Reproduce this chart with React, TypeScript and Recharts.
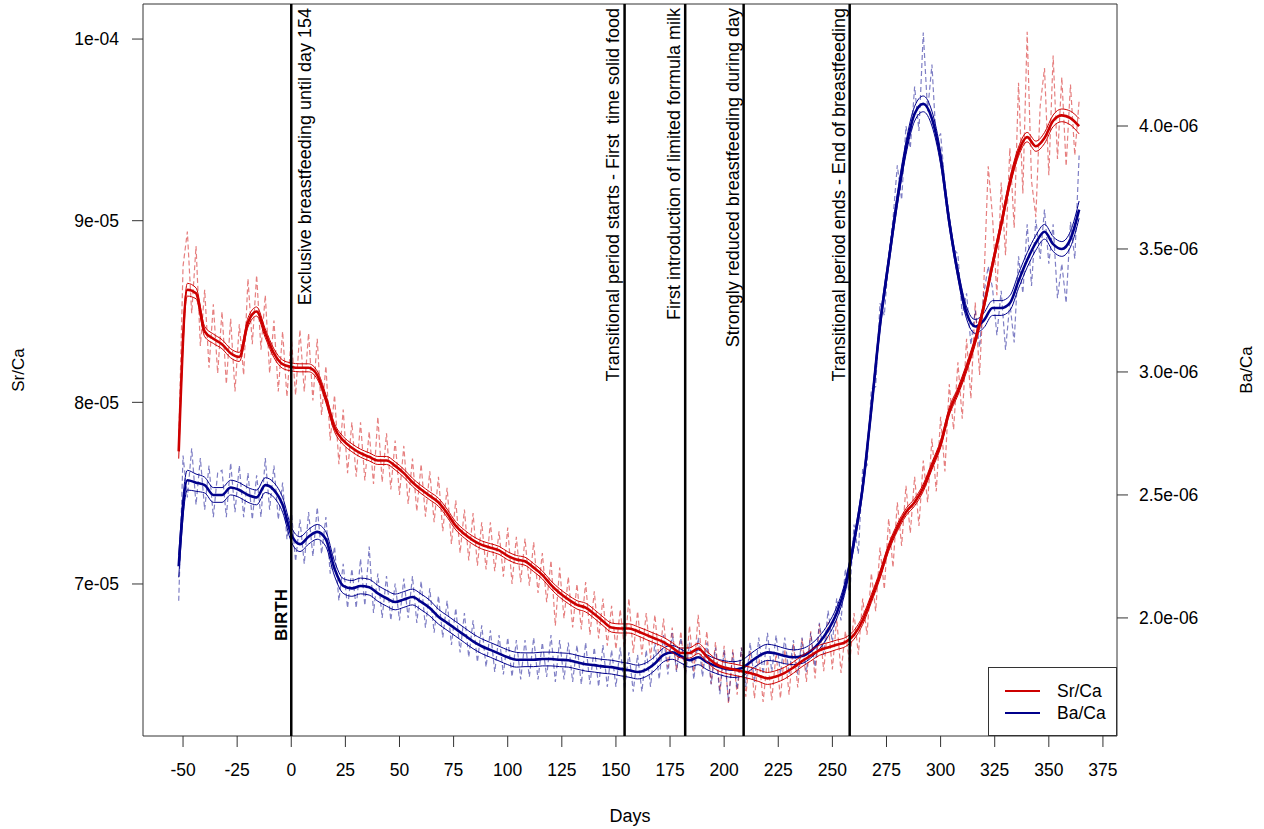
import React from 'react';
import {
  ComposedChart,
  Line,
  XAxis,
  YAxis,
  ReferenceLine,
  ReferenceArea,
  Legend,
} from 'recharts';

// values below are stored in units of 1e-6
const UNIT = 1e-6;

const RED = '#cd0000';
const BLUE = '#00008b';
const FONT = "'Liberation Sans', Arial, sans-serif";
const NARROW = "'Liberation Sans Narrow', 'Liberation Sans', Arial, sans-serif";

// measurements every 2 days
const rawDays = [
  -52, -50, -48, -46, -44, -42, -40, -38, -36, -34,
  -32, -30, -28, -26, -24, -22, -20, -18, -16, -14,
  -12, -10, -8, -6, -4, -2, 0, 2, 4, 6,
  8, 10, 12, 14, 16, 18, 20, 22, 24, 26,
  28, 30, 32, 34, 36, 38, 40, 42, 44, 46,
  48, 50, 52, 54, 56, 58, 60, 62, 64, 66,
  68, 70, 72, 74, 76, 78, 80, 82, 84, 86,
  88, 90, 92, 94, 96, 98, 100, 102, 104, 106,
  108, 110, 112, 114, 116, 118, 120, 122, 124, 126,
  128, 130, 132, 134, 136, 138, 140, 142, 144, 146,
  148, 150, 152, 154, 156, 158, 160, 162, 164, 166,
  168, 170, 172, 174, 176, 178, 180, 182, 184, 186,
  188, 190, 192, 194, 196, 198, 200, 202, 204, 206,
  208, 210, 212, 214, 216, 218, 220, 222, 224, 226,
  228, 230, 232, 234, 236, 238, 240, 242, 244, 246,
  248, 250, 252, 254, 256, 258, 260, 262, 264, 266,
  268, 270, 272, 274, 276, 278, 280, 282, 284, 286,
  288, 290, 292, 294, 296, 298, 300, 302, 304, 306,
  308, 310, 312, 314, 316, 318, 320, 322, 324, 326,
  328, 330, 332, 334, 336, 338, 340, 342, 344, 346,
  348, 350, 352, 354, 356, 358, 360, 362, 364,
];

const srRaw = [
  77.8, 87.5, 89.4, 84.9, 88.6, 83.1, 86.2, 81.9, 85.4, 81.6,
  85.0, 81.0, 84.6, 80.6, 84.3, 81.5, 86.8, 83.2, 87.0, 82.9,
  85.9, 81.6, 84.5, 80.6, 83.9, 80.3, 83.6, 80.4, 84.0, 80.6,
  83.8, 80.1, 83.5, 79.3, 82.0, 77.9, 80.4, 76.6, 79.6, 76.1,
  78.9, 75.9, 78.9, 75.7, 78.4, 75.5, 79.2, 75.6, 78.3, 75.2,
  77.9, 74.9, 77.6, 74.4, 76.9, 74.0, 76.6, 73.7, 76.2, 73.4,
  75.9, 72.9, 75.3, 72.2, 74.6, 71.7, 74.1, 71.3, 73.9, 71.0,
  73.4, 70.8, 73.4, 70.7, 72.9, 70.4, 73.1, 70.0, 72.6, 70.1,
  72.5, 69.9, 72.3, 69.5, 71.7, 69.0, 71.3, 67.7, 70.9, 68.1,
  70.4, 67.6, 70.0, 67.5, 70.1, 67.2, 69.6, 67.0, 69.2, 66.6,
  68.8, 66.4, 68.6, 66.3, 69.2, 66.2, 68.5, 66.1, 68.4, 65.9,
  68.3, 65.7, 68.1, 65.4, 67.6, 65.2, 67.4, 64.9, 67.7, 65.1,
  68.3, 65.3, 67.4, 64.5, 66.8, 64.1, 66.6, 63.4, 66.4, 63.9,
  66.5, 63.8, 66.3, 63.7, 66.1, 63.5, 65.9, 63.6, 66.2, 63.7,
  66.4, 63.9, 66.7, 64.3, 67.0, 64.6, 67.4, 64.8, 67.8, 65.2,
  67.9, 65.3, 68.1, 65.1, 67.4, 65.6, 68.4, 66.1, 69.2, 67.2,
  70.6, 68.5, 72.0, 69.7, 73.6, 70.9, 74.5, 72.1, 75.4, 72.8,
  75.9, 73.2, 76.8, 74.5, 78.0, 75.1, 79.2, 76.2, 81.0, 78.5,
  82.2, 79.1, 83.5, 80.2, 85.5, 81.5, 86.6, 93.0, 90.2, 85.9,
  92.1, 88.1, 94.0, 89.6, 97.6, 91.5, 100.4, 92.2, 90.2, 96.3,
  98.4, 92.5, 99.1, 93.4, 97.9, 93.0, 97.5, 93.6, 96.6,
];

const baRaw = [
  2.07, 2.66, 2.49, 2.69, 2.46, 2.65, 2.44, 2.62, 2.41, 2.59,
  2.60, 2.41, 2.63, 2.43, 2.62, 2.41, 2.59, 2.40, 2.58, 2.41,
  2.65, 2.44, 2.62, 2.40, 2.55, 2.32, 2.44, 2.23, 2.40, 2.22,
  2.43, 2.25, 2.45, 2.26, 2.41, 2.18, 2.29, 2.07, 2.22, 2.04,
  2.20, 2.04, 2.24, 2.05, 2.29, 2.02, 2.18, 2.00, 2.17, 1.99,
  2.14, 1.99, 2.16, 2.00, 2.17, 1.98, 2.15, 1.96, 2.12, 1.94,
  2.09, 1.92, 2.07, 1.89, 2.04, 1.86, 2.02, 1.84, 1.99, 1.82,
  1.97, 1.80, 1.95, 1.78, 1.93, 1.77, 1.92, 1.76, 1.91, 1.75,
  1.91, 1.76, 1.92, 1.75, 1.90, 1.76, 1.93, 1.74, 1.91, 1.75,
  1.90, 1.74, 1.89, 1.73, 1.90, 1.73, 1.88, 1.72, 1.89, 1.72,
  1.87, 1.72, 1.88, 1.71, 1.86, 1.70, 1.85, 1.70, 1.87, 1.72,
  1.90, 1.75, 1.93, 1.77, 1.94, 1.78, 1.92, 1.76, 1.90, 1.75,
  1.92, 1.76, 1.90, 1.73, 1.88, 1.69, 1.87, 1.66, 1.86, 1.71,
  1.88, 1.72, 1.90, 1.74, 1.92, 1.77, 1.94, 1.78, 1.93, 1.77,
  1.92, 1.77, 1.91, 1.77, 1.92, 1.78, 1.94, 1.80, 1.98, 1.85,
  2.03, 1.90, 2.08, 1.99, 2.20, 2.09, 2.38, 2.26, 2.61, 2.62,
  2.93, 2.94, 3.28, 3.23, 3.47, 3.62, 3.84, 3.70, 4.00, 3.91,
  4.16, 3.98, 4.38, 4.06, 4.25, 3.93, 3.97, 3.76, 3.63, 3.50,
  3.48, 3.23, 3.32, 3.11, 3.25, 3.10, 3.32, 3.43, 3.34, 3.15,
  3.33, 3.09, 3.28, 3.12, 3.47, 3.32, 3.60, 3.35, 3.62, 3.46,
  3.66, 3.44, 3.60, 3.30, 3.44, 3.28, 3.61, 3.46, 3.88,
];

// fitted curves with confidence half-widths (every 4 days)
const smoothDays = [
  -52, -48, -44, -40, -36, -32, -28, -24, -20, -16,
  -12, -8, -4, 0, 4, 8, 12, 16, 20, 24,
  28, 32, 36, 40, 44, 48, 52, 56, 60, 64,
  68, 72, 76, 80, 84, 88, 92, 96, 100, 104,
  108, 112, 116, 120, 124, 128, 132, 136, 140, 144,
  148, 152, 156, 160, 164, 168, 172, 176, 180, 184,
  188, 192, 196, 200, 204, 208, 212, 216, 220, 224,
  228, 232, 236, 240, 244, 248, 252, 256, 260, 264,
  268, 272, 276, 280, 284, 288, 292, 296, 300, 304,
  308, 312, 316, 320, 324, 328, 332, 336, 340, 344,
  348, 352, 356, 360, 364,
];

const srSmooth = [
  77.3, 86.2, 86.0, 83.9, 83.5, 83.2, 82.7, 82.5, 84.4, 85.0,
  83.8, 82.7, 82.1, 81.95, 81.9, 81.9, 81.5, 80.2, 78.6, 77.9,
  77.5, 77.2, 77.0, 76.8, 76.8, 76.5, 76.1, 75.6, 75.2, 74.85,
  74.5, 73.9, 73.2, 72.75, 72.4, 72.15, 72.0, 71.85, 71.55, 71.35,
  71.25, 70.9, 70.5, 69.95, 69.5, 69.15, 68.85, 68.7, 68.35, 67.95,
  67.6, 67.55, 67.55, 67.4, 67.2, 67.0, 66.8, 66.5, 66.2, 66.2,
  66.45, 66.0, 65.6, 65.4, 65.3, 65.2, 65.1, 64.95, 64.8, 64.9,
  65.1, 65.4, 65.75, 66.05, 66.35, 66.5, 66.65, 66.8, 67.2, 68.0,
  69.2, 70.5, 72.0, 73.1, 73.95, 74.5, 75.3, 76.5, 77.7, 79.5,
  80.6, 81.9, 83.4, 85.3, 87.6, 89.8, 92.1, 93.8, 94.6, 94.1,
  94.55, 95.5, 95.8, 95.65, 95.2,
];

const srBand = [
  0.4, 0.35, 0.3, 0.28, 0.26, 0.25, 0.25, 0.25, 0.25, 0.25,
  0.24, 0.24, 0.23, 0.22, 0.22, 0.22, 0.22, 0.22, 0.22, 0.22,
  0.22, 0.22, 0.22, 0.22, 0.22, 0.22, 0.22, 0.22, 0.22, 0.22,
  0.22, 0.22, 0.22, 0.22, 0.22, 0.22, 0.22, 0.22, 0.22, 0.22,
  0.22, 0.22, 0.22, 0.22, 0.23, 0.23, 0.23, 0.24, 0.24, 0.24,
  0.25, 0.25, 0.25, 0.25, 0.26, 0.26, 0.26, 0.27, 0.27, 0.28,
  0.28, 0.29, 0.3, 0.3, 0.31, 0.31, 0.32, 0.32, 0.33, 0.33,
  0.32, 0.31, 0.3, 0.29, 0.28, 0.27, 0.26, 0.25, 0.24, 0.23,
  0.22, 0.21, 0.2, 0.2, 0.2, 0.2, 0.2, 0.2, 0.2, 0.21,
  0.21, 0.22, 0.22, 0.23, 0.23, 0.24, 0.24, 0.25, 0.26, 0.28,
  0.3, 0.32, 0.35, 0.38, 0.42,
];

const baSmooth = [
  2.21, 2.56, 2.55, 2.54, 2.5, 2.5, 2.53, 2.52, 2.5, 2.49,
  2.54, 2.52, 2.46, 2.34, 2.3, 2.33, 2.35, 2.32, 2.2, 2.13,
  2.12, 2.13, 2.125, 2.1, 2.08, 2.065, 2.075, 2.085, 2.065, 2.04,
  2.005, 1.98, 1.955, 1.93, 1.905, 1.885, 1.87, 1.855, 1.84, 1.83,
  1.83, 1.83, 1.833, 1.833, 1.83, 1.828, 1.82, 1.812, 1.808, 1.803,
  1.8, 1.793, 1.787, 1.78, 1.79, 1.815, 1.85, 1.86, 1.845, 1.828,
  1.84, 1.82, 1.805, 1.795, 1.79, 1.795, 1.82, 1.845, 1.86, 1.855,
  1.845, 1.84, 1.845, 1.865, 1.9, 1.95, 2.02, 2.13, 2.31, 2.53,
  2.85, 3.19, 3.45, 3.7, 3.91, 4.05, 4.09, 4.03, 3.87, 3.61,
  3.4, 3.24, 3.185, 3.21, 3.26, 3.26, 3.28, 3.37, 3.455, 3.525,
  3.57, 3.52, 3.5, 3.54, 3.66,
];

const baBand = [
  0.045, 0.04, 0.035, 0.032, 0.03, 0.03, 0.03, 0.03, 0.03, 0.03,
  0.03, 0.03, 0.03, 0.03, 0.03, 0.03, 0.03, 0.03, 0.03, 0.03,
  0.032, 0.032, 0.032, 0.032, 0.032, 0.032, 0.032, 0.032, 0.032, 0.032,
  0.03, 0.03, 0.03, 0.03, 0.03, 0.03, 0.03, 0.03, 0.03, 0.03,
  0.028, 0.028, 0.028, 0.028, 0.028, 0.028, 0.028, 0.028, 0.028, 0.028,
  0.028, 0.028, 0.028, 0.028, 0.028, 0.028, 0.028, 0.028, 0.028, 0.028,
  0.03, 0.03, 0.03, 0.031, 0.032, 0.033, 0.033, 0.033, 0.033, 0.032,
  0.031, 0.03, 0.03, 0.028, 0.026, 0.025, 0.024, 0.022, 0.02, 0.02,
  0.022, 0.022, 0.022, 0.024, 0.026, 0.03, 0.032, 0.03, 0.026, 0.022,
  0.02, 0.024, 0.028, 0.03, 0.03, 0.03, 0.03, 0.03, 0.03, 0.03,
  0.03, 0.03, 0.03, 0.032, 0.035,
];

// dietary milestones, days after birth
const eventDays = [0, 154, 182, 209, 258];

const notes = [
  { day: 0, text: 'BIRTH', dx: -10, top: false, bold: true },
  { day: 0, text: 'Exclusive breastfeeding until day 154', dx: 14, top: true, bold: false },
  { day: 154, text: 'Transitional period starts - First  time solid food', dx: -12, top: true, bold: false },
  { day: 182, text: 'First introduction of limited formula milk', dx: -11, top: true, bold: false },
  { day: 209, text: 'Strongly reduced breastfeeding during day', dx: -11, top: true, bold: false },
  { day: 258, text: 'Transitional period ends - End of breastfeeding', dx: -11, top: true, bold: false },
];

const xTicks = [-50, -25, 0, 25, 50, 75, 100, 125, 150, 175, 200, 225, 250, 275, 300, 325, 350, 375];
const srTicks = [7e-5, 8e-5, 9e-5, 1e-4];
const baTicks = [2e-6, 2.5e-6, 3e-6, 3.5e-6, 4e-6];

const X_DOMAIN: [number, number] = [-68.5, 381.5];
const SR_DOMAIN: [number, number] = [6.163e-5, 1.0193e-4];
const BA_DOMAIN: [number, number] = [1.52e-6, 4.496e-6];

const rawRows = rawDays.map((day, i) => ({
  day,
  sr: srRaw[i] * UNIT,
  ba: baRaw[i] * UNIT,
}));

const smoothRows = smoothDays.map((day, i) => ({
  day,
  sr: srSmooth[i] * UNIT,
  srHi: (srSmooth[i] + srBand[i]) * UNIT,
  srLo: (srSmooth[i] - srBand[i]) * UNIT,
  ba: baSmooth[i] * UNIT,
  baHi: (baSmooth[i] + baBand[i]) * UNIT,
  baLo: (baSmooth[i] - baBand[i]) * UNIT,
}));

// R-style scientific labels: 1e-04, 4.0e-06
const sci = (v: number, digits: number) => {
  const [m, e] = v.toExponential(digits).split('e');
  const n = Math.abs(parseInt(e, 10));
  const sign = e.startsWith('-') ? '-' : '+';
  return `${m}e${sign}${n < 10 ? '0' + n : n}`;
};

const eventLabel = (day: number) => (props: any) => {
  const vb = props.viewBox || {};
  return (
    <g>
      {notes
        .filter((n) => n.day === day)
        .map((n) => {
          const x = vb.x + n.dx;
          const y = n.top ? vb.y + 4 : vb.y + vb.height - 95;
          return (
            <text
              key={n.text}
              x={x}
              y={y}
              transform={`rotate(-90 ${x} ${y})`}
              textAnchor={n.top ? 'end' : 'start'}
              dominantBaseline="central"
              fontSize={n.bold ? 17 : 18}
              fontWeight={n.bold ? 'bold' : 'normal'}
              fontFamily={FONT}
              fill="#000"
              style={{ whiteSpace: 'pre' }}
            >
              {n.text}
            </text>
          );
        })}
    </g>
  );
};

const LegendBox = () => (
  <svg width={129} height={69} style={{ display: 'block', background: '#fff' }}>
    <rect x={0.5} y={0.5} width={128} height={68} fill="#fff" stroke="#333" />
    <line x1={17} x2={52} y1={24} y2={24} stroke={RED} strokeWidth={2} />
    <text x={69} y={24} dominantBaseline="central" fontSize={17.5} fontFamily={FONT}>
      Sr/Ca
    </text>
    <line x1={17} x2={52} y1={46} y2={46} stroke={BLUE} strokeWidth={2} />
    <text x={69} y={46} dominantBaseline="central" fontSize={17.5} fontFamily={FONT}>
      Ba/Ca
    </text>
  </svg>
);

const tickStyle = { fill: '#000', fontSize: 17.5, fontFamily: FONT };

const rawProps = {
  type: 'linear' as const,
  strokeWidth: 1.2,
  strokeOpacity: 0.5,
  strokeDasharray: '5 3',
  dot: false,
  activeDot: false,
  isAnimationActive: false,
  legendType: 'none' as const,
};

const fitProps = {
  type: 'monotone' as const,
  dot: false,
  activeDot: false,
  isAnimationActive: false,
  legendType: 'none' as const,
};

export default function App() {
  return (
    <div style={{ position: 'absolute', left: 0, top: 0, width: 1264, height: 829, background: '#fff', fontFamily: FONT }}>
      <ComposedChart width={1264} height={829} margin={{ top: 4, right: 0, bottom: 0, left: 0 }}>
        <XAxis
          dataKey="day"
          type="number"
          domain={X_DOMAIN}
          ticks={xTicks}
          allowDataOverflow
          height={93}
          tickSize={11}
          tickMargin={17}
          axisLine={false}
          tickLine={{ stroke: '#333' }}
          tick={tickStyle}
          interval={0}
          label={() => (
            <text x={630} y={816} textAnchor="middle" dominantBaseline="central" fontSize={18} fontFamily={FONT}>
              Days
            </text>
          )}
        />
        <YAxis
          yAxisId="sr"
          orientation="left"
          type="number"
          domain={SR_DOMAIN}
          ticks={srTicks}
          allowDataOverflow
          width={143}
          tickSize={11}
          tickMargin={13}
          axisLine={false}
          tickLine={{ stroke: '#333' }}
          tick={tickStyle}
          tickFormatter={(v: number) => sci(v, 0)}
          interval={0}
          label={() => (
            <text
              x={18}
              y={370}
              transform="rotate(-90 18 370)"
              textAnchor="middle"
              dominantBaseline="central"
              fontSize={17}
              fontFamily={NARROW}
            >
              Sr/Ca
            </text>
          )}
        />
        <YAxis
          yAxisId="ba"
          orientation="right"
          type="number"
          domain={BA_DOMAIN}
          ticks={baTicks}
          allowDataOverflow
          width={147}
          tickSize={11}
          tickMargin={11}
          axisLine={false}
          tickLine={{ stroke: '#333' }}
          tick={tickStyle}
          tickFormatter={(v: number) => sci(v, 1)}
          interval={0}
          label={() => (
            <text
              x={1246}
              y={370}
              transform="rotate(-90 1246 370)"
              textAnchor="middle"
              dominantBaseline="central"
              fontSize={17}
              fontFamily={NARROW}
            >
              Ba/Ca
            </text>
          )}
        />

        {/* raw measurements, dashed */}
        <Line {...rawProps} data={rawRows} yAxisId="sr" dataKey="sr" stroke={RED} />
        <Line {...rawProps} data={rawRows} yAxisId="ba" dataKey="ba" stroke={BLUE} />

        {/* Ba/Ca fit and confidence band */}
        <Line {...fitProps} data={smoothRows} yAxisId="ba" dataKey="baHi" stroke={BLUE} strokeWidth={1} />
        <Line {...fitProps} data={smoothRows} yAxisId="ba" dataKey="baLo" stroke={BLUE} strokeWidth={1} />
        <Line {...fitProps} data={smoothRows} yAxisId="ba" dataKey="ba" stroke={BLUE} strokeWidth={2.6} />

        {/* Sr/Ca fit and confidence band */}
        <Line {...fitProps} data={smoothRows} yAxisId="sr" dataKey="srHi" stroke={RED} strokeWidth={1} />
        <Line {...fitProps} data={smoothRows} yAxisId="sr" dataKey="srLo" stroke={RED} strokeWidth={1} />
        <Line {...fitProps} data={smoothRows} yAxisId="sr" dataKey="sr" stroke={RED} strokeWidth={2.6} />

        {eventDays.map((d) => (
          <ReferenceLine
            key={d}
            x={d}
            yAxisId="sr"
            stroke="#000"
            strokeWidth={2.5}
            label={eventLabel(d)}
          />
        ))}

        <ReferenceArea
          yAxisId="sr"
          x1={X_DOMAIN[0]}
          x2={X_DOMAIN[1]}
          y1={SR_DOMAIN[0]}
          y2={SR_DOMAIN[1]}
          fill="none"
          stroke="#333"
          strokeWidth={1}
          ifOverflow="visible"
        />

        <Legend
          layout="horizontal"
          verticalAlign="middle"
          align="center"
          wrapperStyle={{ left: 988, top: 667, width: 129, height: 69 }}
          content={() => <LegendBox />}
        />
      </ComposedChart>
    </div>
  );
}
